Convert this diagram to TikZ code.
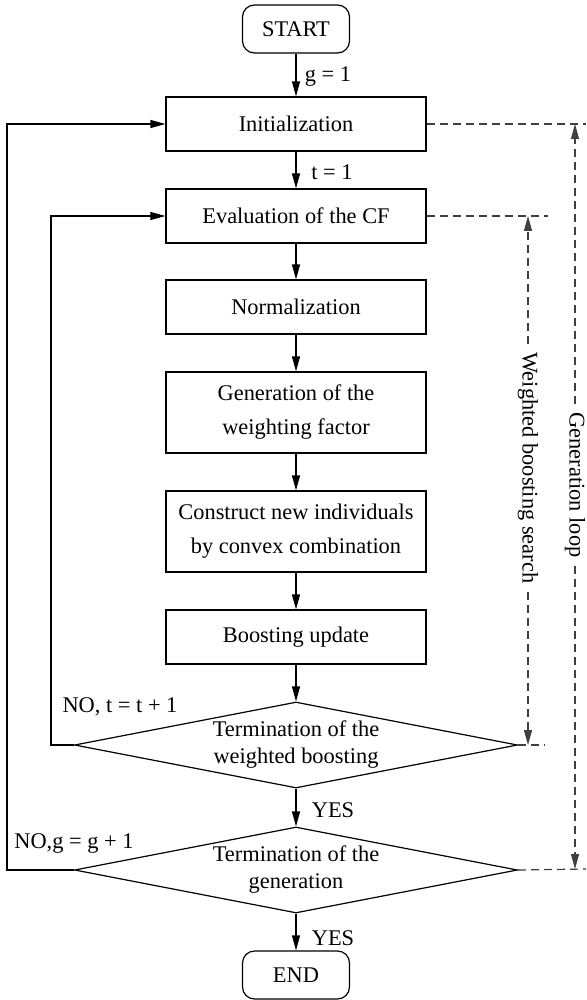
\documentclass[tikz,border=0pt]{standalone}
\usepackage{fontspec}
\setmainfont{Liberation Serif}
\usepackage{tikz}
\usetikzlibrary{shapes.geometric,arrows.meta}

\tikzset{
	process/.style={draw, line width=0.6pt, minimum width=130pt, minimum height=27pt,
		inner sep=1pt, align=center, font=\fontsize{11.2}{17}\selectfont},
	tallprocess/.style={process, minimum height=40.5pt},
	startstop/.style={draw, line width=0.6pt, rounded corners=6pt, minimum width=53.5pt,
		minimum height=24pt, font=\fontsize{11.2}{13.5}\selectfont},
	decision/.style={draw, diamond, line width=0.6pt, aspect=5.15, inner sep=0pt,
		minimum width=221.5pt, minimum height=43pt, align=center,
		font=\fontsize{11.2}{13.5}\selectfont},
	tag/.style={inner sep=1pt, font=\fontsize{11.2}{13.5}\selectfont},
	looplabel/.style={rotate=-90, inner xsep=4pt, inner ysep=0pt, font=\fontsize{11.2}{13.5}\selectfont},
	flow/.style={line width=0.6pt, -{Triangle[length=7.5pt,width=4pt]}},
	dashline/.style={line width=0.6pt, black!75, dash pattern=on 4pt off 2.5pt},
	dashflow/.style={dashline, -{Triangle[length=7.5pt,width=4pt]}}
}

\begin{document}
\begin{tikzpicture}[x=0.5pt,y=-0.5pt]
	\useasboundingbox (0,0) rectangle (586,1000);
	
	\node[startstop] (start) at (296,29) {START};
	\node[process] (init) at (296,124) {Initialization};
	\node[process] (eval) at (296,216) {Evaluation of the CF};
	\node[process] (norm) at (296,307) {Normalization};
	\node[tallprocess] (gen) at (296,412.5) {Generation of the\\ weighting factor};
	\node[tallprocess] (cons) at (296,531.5) {Construct new individuals\\ by convex combination};
	\node[process] (boost) at (296,637) {Boosting update};
	\node[decision] (term1) at (296,745) {Termination of the\\ weighted boosting};
	\node[decision] (term2) at (296,870) {Termination of the\\ generation};
	\node[startstop] (end) at (296,975) {END};
	
	%-------------------------------------
	\draw[flow] (start) -- (init);
	\draw[flow] (init) -- (eval);
	\draw[flow] (eval) -- (norm);
	\draw[flow] (norm) -- (gen);
	\draw[flow] (gen) -- (cons);
	\draw[flow] (cons) -- (boost);
	\draw[flow] (boost) -- (term1);
	\draw[flow] (term1) -- (term2);
	\draw[flow] (term2) -- (end);
	
	\draw[flow] (term1.west) -- ++(-23,0) |- (eval.west);
	\draw[flow] (term2.west) -- ++(-67,0) |- (init.west);
	
	\node[tag] (lg) at (328,77) {g = 1};
	\node[tag] (lt) at (332,172) {t = 1};
	\node[tag] (lyes1) at (333,810) {YES};
	\node[tag] (lyes2) at (333,938) {YES};
	\node[tag] (lno1) at (120,707) {NO, t = t + 1};
	\node[tag] (lno2) at (74,843) {NO,g = g + 1};
	
	%-------------------------------------
	\coordinate (ginit) at (586,124);
	\coordinate (geval) at (548,216);
	\coordinate (gterm1) at (545,745);
	\coordinate (gterm2) at (586,869);
	
	\draw[dashline] (init.east) -- (ginit);
	\draw[dashline] (eval.east) -- (geval);
	\draw[dashline] (term1.east) -- (gterm1);
	\draw[dashline] (term2.east) -- (gterm2);
	
	\node[looplabel] (wbs) at (528,468) {Weighted boosting search};
	\node[looplabel] (gloop) at (575,485) {Generation loop};
	
	\draw[dashflow] (wbs) -- (wbs |- geval);
	\draw[dashflow] (wbs) -- (wbs |- gterm1);
	\draw[dashflow] (gloop) -- (gloop |- ginit);
	\draw[dashflow] (gloop) -- (gloop |- gterm2);
	
\end{tikzpicture}
\end{document}
